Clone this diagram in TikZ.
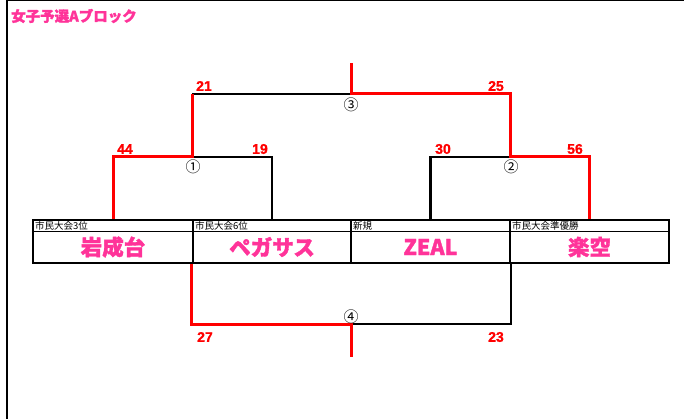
\documentclass[tikz,border=0pt]{standalone}
\usepackage{fontspec}
\setmainfont{Liberation Sans}[BoldFeatures={FakeBold=1.2}]
\newfontfamily\cjk{Noto Sans CJK JP}[BoldFeatures={FakeBold=1.5}]
\definecolor{tpink}{RGB}{255,51,153}
\definecolor{tred}{RGB}{255,0,0}
\tikzset{
  win/.style={draw=tred,line width=3pt},
  lose/.style={draw=black,line width=2.2pt},
  cell/.style={draw=black,line width=2.4pt,minimum height=43pt,inner sep=0pt},
  team/.style={text=tpink,font=\cjk\bfseries\fontsize{21.5}{22}\selectfont,inner sep=0pt},
  hdr/.style={font=\cjk\fontsize{9.5}{10}\selectfont,anchor=west,inner sep=0pt},
  score/.style={text=tred,font=\bfseries\fontsize{14}{14}\selectfont,anchor=west,inner sep=0pt},
  circ/.style={font=\cjk\fontsize{15}{15}\selectfont,inner sep=0pt},
}
\begin{document}
\begin{tikzpicture}[x=1pt,y=-1pt]
\useasboundingbox (0,0) rectangle (684,419);
\draw[line width=2.2pt] (7,0) -- (7,419);
\draw[line width=1.5pt] (7,0.6) -- (684,0.6);
\node[anchor=west,text=tpink,font=\cjk\bfseries\fontsize{14.5}{15}\selectfont,inner sep=0pt] (title) at (11,16) {女子予選Aブロック};
% table cells
\node[cell,minimum width=160pt] (t1) at (113,241.5) {};
\node[cell,minimum width=158pt] (t2) at (272,241.5) {};
\node[cell,minimum width=159pt] (t3) at (430.5,241.5) {};
\node[cell,minimum width=159pt] (t4) at (589.5,241.5) {};
\draw[line width=0.6pt] (t1.west |- 0,231) -- (t4.east |- 0,231);
\node[hdr] (h1) at (35,226) {市民大会3位};
\node[hdr] (h2) at (195,226) {市民大会6位};
\node[hdr] (h3) at (353,226) {新規};
\node[hdr] (h4) at (512,226) {市民大会準優勝};
\node[team] (n1) at (113,247) {岩成台};
\node[team] (n2) at (272,247) {ペガサス};
\node[team] (n3) at (430.5,247) {ZEAL};
\node[team] (n4) at (589.5,247) {楽空};
% bracket points
\coordinate (m1) at (192,157);
\coordinate (m2) at (510,157);
\coordinate (m3) at (351,94);
\coordinate (top) at (351,63);
\coordinate (m4) at (351,324);
\coordinate (bot) at (351,357);
\draw[lose] (m1) -| (t2.north);
\draw[lose] (m2) -| (t3.north);
\draw[lose] (m1 |- m3) -- (m3);
\draw[lose] (m4) -| (t3.south east);
\draw[win] (t1.north) |- (m1) -- (m1 |- m3);
\draw[win] (t4.north) |- (m2) |- (m3) -- (top);
\draw[win] (t2.south west) |- (m4) -- (bot);
% scores
\node[score] (s44) at (117,149) {44};
\node[score] (s19) at (252,149) {19};
\node[score] (s30) at (435,149) {30};
\node[score] (s56) at (567,149) {56};
\node[score] (s21) at (196,86) {21};
\node[score] (s25) at (488,86) {25};
\node[score] (s27) at (197,337) {27};
\node[score] (s23) at (488,337) {23};
% circled numbers
\node[circ] (c1) at (193,167) {①};
\node[circ] (c2) at (511,167) {②};
\node[circ] (c3) at (351,105) {③};
\node[circ] (c4) at (351,317) {④};
\end{tikzpicture}
\end{document}
